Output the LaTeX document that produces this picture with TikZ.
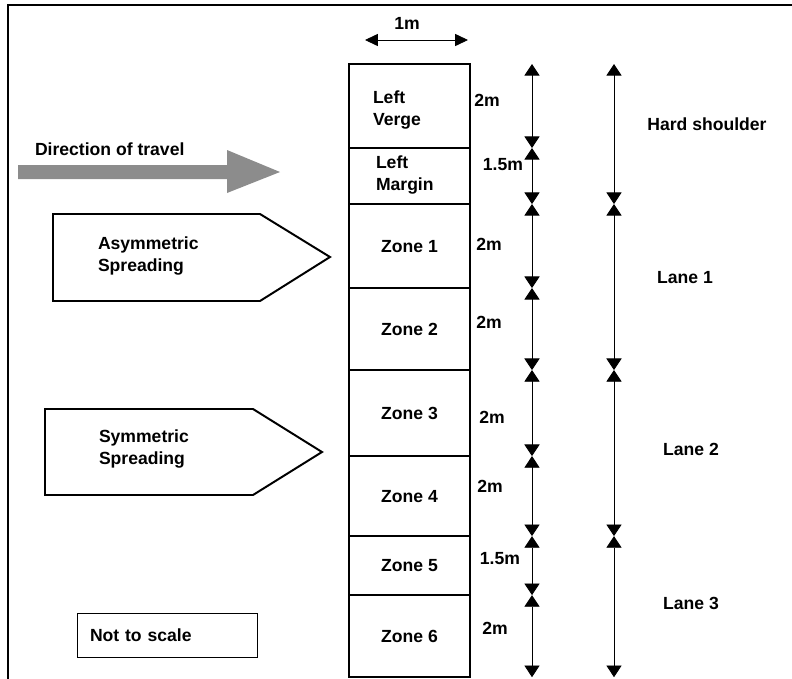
\documentclass[tikz,border=0pt]{standalone}
\usepackage{fontspec}
\setmainfont{Liberation Sans}
\usetikzlibrary{positioning,arrows.meta}
\definecolor{travelgrey}{RGB}{140,140,140}

\begin{document}
\begin{tikzpicture}[
  x=0.025cm, y=-0.025cm,
  every node/.style={font=\bfseries\fontsize{12.5}{15.5}\selectfont, inner sep=0pt, outer sep=0pt},
  zone/.style={draw=black, line width=1.4pt, minimum width=3.025cm},
  dim/.style={line width=0.6pt, {Triangle[width=0.38cm,length=0.29cm]}-{Triangle[width=0.38cm,length=0.29cm]}},
  widthdim/.style={line width=0.6pt, {Triangle[width=0.3cm,length=0.32cm]}-{Triangle[width=0.3cm,length=0.32cm]}},
  sign/.style={draw=black, line width=1.4pt, line join=miter},
  note/.style={draw=black, line width=0.6pt, minimum height=1.1cm, text width=3.85cm, inner xsep=0.325cm, align=left}
  ]
\useasboundingbox (0,0) rectangle (792,679);

% frame
\draw[line width=1.4pt] (8,679) -- (8,5) -- (792,5);

% zones across the carriageway
\node[zone, minimum height=2.1cm] (lv) at (409.5,106) {};
\node[zone, minimum height=1.4cm, below=0pt of lv] (lm) {};
\node[zone, minimum height=2.1cm, below=0pt of lm] (z1) {Zone 1};
\node[zone, minimum height=2.05cm, below=0pt of z1] (z2) {Zone 2};
\node[zone, minimum height=2.15cm, below=0pt of z2] (z3) {Zone 3};
\node[zone, minimum height=2.0cm, below=0pt of z3] (z4) {Zone 4};
\node[zone, minimum height=1.475cm, below=0pt of z4] (z5) {Zone 5};
\node[zone, minimum height=2.05cm, below=0pt of z5] (z6) {Zone 6};

\node[anchor=west, align=left] (lvtext) at (373,110) {Left\\Verge};
\node[anchor=west, align=left] (lmtext) at (376,175) {Left\\Margin};

% width of a zone
\coordinate (w1) at (365,40);
\coordinate (w2) at (468,40);
\draw[widthdim] (w1) -- (w2);
\node (wlabel) at (407,23) {1m};

% zone widths
\coordinate (d1) at (532,0);
\foreach \z in {lv,lm,z1,z2,z3,z4,z5,z6}
  \draw[dim] (\z.north -| d1) -- (\z.south -| d1);

\node (lvdim) at (487,100) {2m};
\node (lmdim) at (503,165) {1.5m};
\node (z1dim) at (489,244) {2m};
\node (z2dim) at (489,322) {2m};
\node (z3dim) at (492,417) {2m};
\node (z4dim) at (490,486) {2m};
\node (z5dim) at (500,559) {1.5m};
\node (z6dim) at (495,628) {2m};

% lanes
\coordinate (d2) at (614,0);
\draw[dim] (lv.north -| d2) -- (lm.south -| d2);
\draw[dim] (z1.north -| d2) -- (z2.south -| d2);
\draw[dim] (z3.north -| d2) -- (z4.south -| d2);
\draw[dim] (z5.north -| d2) -- (z6.south -| d2);

\node (hard) at (707,124) {Hard shoulder};
\node (lane1) at (685,278) {Lane 1};
\node (lane2) at (691,449) {Lane 2};
\node (lane3) at (691,603) {Lane 3};

% direction of travel
\node[anchor=west] (travel) at (35,149) {Direction of travel};
\fill[travelgrey] (18,165) -- (227,165) -- (227,150) -- (280,172)
  -- (227,193) -- (227,179) -- (18,179) -- cycle;

% spreading signs
\draw[sign] (53,214) -- (260,214) -- (330,257) -- (260,301) -- (53,301) -- cycle;
\node[anchor=west, align=left] (asym) at (98,256) {Asymmetric\\Spreading};

\draw[sign] (45,409) -- (253,409) -- (322,452) -- (253,495) -- (45,495) -- cycle;
\node[anchor=west, align=left] (sym) at (99,449) {Symmetric\\Spreading};

% note
\node[note, anchor=west] (scale) at (77,635) {Not to scale};
\end{tikzpicture}
\end{document}
